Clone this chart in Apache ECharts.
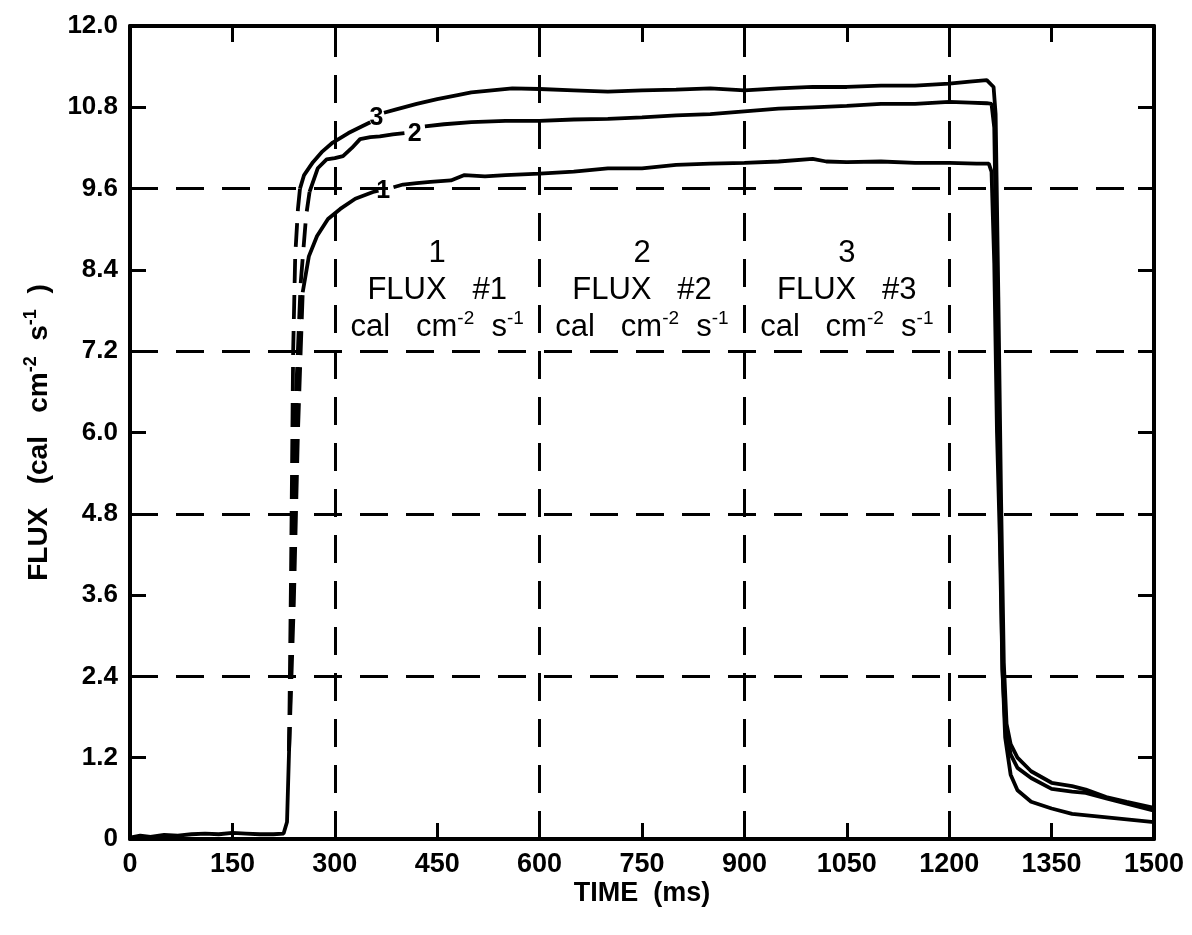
<!DOCTYPE html>
<html>
<head>
<meta charset="utf-8">
<script src="https://cdn.jsdelivr.net/npm/echarts@6/dist/echarts.min.js"></script>
<style>html,body{margin:0;padding:0;background:#fff}#c{width:1192px;height:935px}</style>
</head>
<body>
<div id="c"></div>
<script>
// ---- data (time in ms, flux in cal cm^-2 s^-1) ----
const xTicks = [0,150,300,450,600,750,900,1050,1200,1350,1500];
const yTicks = [0,1.2,2.4,3.6,4.8,6.0,7.2,8.4,9.6,10.8,12.0];
const gridX = [300,600,900,1200];
const gridY = [2.4,4.8,7.2,9.6];

const baseT = [0,15,30,50,70,90,110,130,150,170,190,210,225,230,233];
const baseF = [0.02,0.05,0.03,0.06,0.05,0.07,0.08,0.07,0.09,0.08,0.07,0.07,0.08,0.25,1.3];

const rise1T = [233,240,246,250,253];
const rise1F = [1.3,3.5,6.0,7.2,8.07];
const rise2T = [233,238,243,250,258,263];
const rise2F = [1.3,3.5,6.5,8.2,9.2,9.55];
const rise3T = [233,236,239,242,246,249];
const rise3F = [1.3,4.0,7.2,8.6,9.3,9.6];

const c1T = [253,262,274,290,308,330,356,364,372,386,400,420,440,470,490,520,550,600,650,700,750,800,850,900,950,1000,1020,1050,1100,1150,1200,1240,1258,1262,1266,1270,1274,1278,1282,1290,1300,1320,1350,1380,1420,1460,1500];
const c1F = [8.07,8.6,8.9,9.15,9.3,9.45,9.55,9.57,null,9.62,9.66,9.68,9.7,9.72,9.8,9.78,9.8,9.82,9.85,9.9,9.9,9.95,9.97,9.98,10.0,10.04,10.0,9.99,10.0,9.98,9.98,9.97,9.97,9.85,8.5,6.0,4.5,2.5,1.5,0.95,0.72,0.55,0.45,0.37,0.33,0.29,0.25];

const c2T = [263,275,288,300,312,325,337,352,366,385,402,417,432,460,500,550,600,650,700,750,800,850,900,950,1000,1050,1100,1150,1200,1230,1255,1262,1266,1270,1274,1278,1282,1290,1300,1320,1350,1380,1400,1430,1460,1500];
const c2F = [9.55,9.9,10.03,10.05,10.08,10.2,10.33,10.36,10.37,10.4,10.42,null,10.52,10.55,10.58,10.6,10.6,10.62,10.63,10.65,10.68,10.7,10.74,10.78,10.8,10.82,10.85,10.85,10.88,10.87,10.86,10.85,10.5,8.0,5.0,2.5,1.7,1.25,1.05,0.9,0.74,0.7,0.68,0.6,0.52,0.42];

const c3T = [249,255,268,282,297,320,340,352,361,372,390,420,450,480,500,530,560,600,650,700,750,800,850,900,950,1000,1050,1100,1150,1200,1230,1255,1265,1268,1272,1276,1280,1284,1290,1300,1320,1350,1380,1400,1430,1460,1500];
const c3F = [9.6,9.8,9.99,10.15,10.28,10.42,10.52,10.58,null,10.72,10.77,10.85,10.92,10.98,11.02,11.05,11.08,11.07,11.05,11.03,11.05,11.06,11.08,11.05,11.08,11.1,11.1,11.12,11.12,11.15,11.18,11.2,11.1,10.7,8.0,5.0,2.6,1.7,1.4,1.2,1.0,0.83,0.78,0.73,0.62,0.55,0.46];

const curveLabels = ['1','2','3'];
const curveLabelT = [371,417,361];
const curveLabelF = [9.56,10.4,10.64];

const boxT = [450,750,1050];
const boxF = [8.1,8.1,8.1];
const boxNum = ['1','2','3'];

// ---- chart ----
const FONT = '"Liberation Sans", Arial, Helvetica, sans-serif';
const pairs = (t, f) => t.map((x, i) => [x, f[i] === null ? '-' : f[i]]);
const lineStyle = {color:'#000', width:3.8};
const noBorder = {textBorderWidth:0, textBorderColor:'transparent', textShadowBlur:0, opacity:1};

const chart = echarts.init(document.getElementById('c'), null, {renderer:'canvas'});

function lineSeries(t, f, dashed) {
  return {
    type:'line', data: pairs(t, f), showSymbol:false, symbol:'none', connectNulls:false,
    lineStyle: Object.assign({}, lineStyle, dashed ? {type:[24,12]} : {}),
    silent:true, animation:false, z:3
  };
}

const commonX = {type:'value', min:0, max:1500, interval:150};
const commonY = {type:'value', min:0, max:12, interval:1.2};

const option = {
  backgroundColor:'#fff',
  animation:false,
  grid:{left:130, right:38, top:26, bottom:96, containLabel:false},
  xAxis:[
    Object.assign({}, commonX, {
      position:'bottom',
      axisLine:{show:true, onZero:false, lineStyle:{color:'#000', width:4}},
      axisTick:{show:true, inside:true, length:16, lineStyle:{color:'#000', width:3}},
      axisLabel:{show:true, color:'#000', fontFamily:FONT, fontWeight:'bold', fontSize:27, margin:12,
        formatter: v => String(v)},
      splitLine:{show:false},
      name:'TIME  (ms)', nameLocation:'middle', nameGap:41, nameMoveOverlap:false,
      nameTextStyle:{color:'#000', fontFamily:FONT, fontWeight:'bold', fontSize:27}
    }),
    Object.assign({}, commonX, {
      position:'top',
      axisLine:{show:true, onZero:false, lineStyle:{color:'#000', width:4}},
      axisTick:{show:true, inside:true, length:16, lineStyle:{color:'#000', width:3}},
      axisLabel:{show:false}, splitLine:{show:false}
    })
  ],
  yAxis:[
    Object.assign({}, commonY, {
      position:'left',
      axisLine:{show:true, onZero:false, lineStyle:{color:'#000', width:4}},
      axisTick:{show:true, inside:true, length:16, lineStyle:{color:'#000', width:3}},
      axisLabel:{show:true, color:'#000', fontFamily:FONT, fontWeight:'bold', fontSize:26, margin:12,
        formatter: v => (Math.abs(v) < 1e-9 ? '0' : v.toFixed(1))},
      splitLine:{show:false},
      name:'FLUX   (cal   cm{s|-2}  s{s|-1}  )', nameLocation:'middle', nameGap:74, nameMoveOverlap:false,
      nameTextStyle:{color:'#000', fontFamily:FONT, fontWeight:'bold', fontSize:28,
        rich:{s:{fontFamily:FONT, fontWeight:'bold', fontSize:18, color:'#000', padding:[0,0,16,0]}}}
    }),
    Object.assign({}, commonY, {
      position:'right',
      axisLine:{show:true, onZero:false, lineStyle:{color:'#000', width:4}},
      axisTick:{show:true, inside:true, length:16, lineStyle:{color:'#000', width:3}},
      axisLabel:{show:false}, splitLine:{show:false}
    })
  ],
  series:[
    {
      type:'line', data:[], silent:true, animation:false, z:2,
      markLine:{
        silent:true, symbol:'none', animation:false, label:{show:false},
        lineStyle:{color:'#000', width:3, type:[28,18]},
        data: gridX.map(x => ({xAxis:x})).concat(gridY.map(y => ({yAxis:y})))
      }
    },
    lineSeries(baseT, baseF, false),
    lineSeries(rise1T, rise1F, true),
    lineSeries(rise2T, rise2F, true),
    lineSeries(rise3T, rise3F, true),
    lineSeries(c1T, c1F, false),
    lineSeries(c2T, c2F, false),
    lineSeries(c3T, c3F, false),
    {
      type:'scatter', symbolSize:0, silent:true, animation:false, z:5,
      itemStyle:{color:'#000', opacity:1},
      data: curveLabelT.map((t, i) => ({value:[t, curveLabelF[i]], name:curveLabels[i]})),
      label:Object.assign({show:true, position:'inside', formatter: p => p.name,
        color:'#000', fontFamily:FONT, fontWeight:'bold', fontSize:25}, noBorder)
    },
    {
      type:'scatter', symbolSize:0, silent:true, animation:false, z:5,
      itemStyle:{color:'#000', opacity:1},
      data: boxT.map((t, i) => ({value:[t, boxF[i]], name:boxNum[i]})),
      label:Object.assign({show:true, position:'inside', align:'center', color:'#000',
        formatter: p => '{t|' + p.name + '}\n{t|FLUX   #' + p.name + '}\n{t|cal   cm}{s|-2}{t|  s}{s|-1}',
        rich:{
          t:Object.assign({color:'#000', fontFamily:FONT, fontSize:31, lineHeight:37, align:'center'}, noBorder),
          s:Object.assign({color:'#000', fontFamily:FONT, fontSize:19, lineHeight:37, padding:[0,0,16,0]}, noBorder)
        }
      }, noBorder)
    }
  ]
};
chart.setOption(option);
</script>
</body>
</html>
